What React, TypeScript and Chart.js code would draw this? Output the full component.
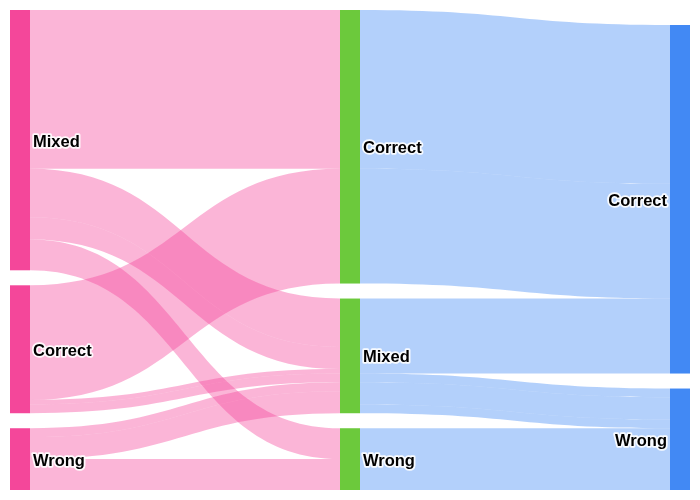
import React, { useEffect, useRef } from 'react';
import { Chart, registerables } from 'chart.js';

Chart.register(...registerables);

// ---- data ----
const COLUMN_1 = ['Mixed', 'Correct', 'Wrong'];
const COLUMN_2 = ['Correct', 'Mixed', 'Wrong'];
const COLUMN_3 = ['Correct', 'Wrong'];

const LINKS_1_FROM = ['Mixed', 'Mixed', 'Mixed', 'Mixed', 'Correct', 'Correct', 'Correct', 'Wrong', 'Wrong', 'Wrong'];
const LINKS_1_TO = ['Correct', 'Mixed', 'Mixed', 'Wrong', 'Correct', 'Mixed', 'Mixed', 'Mixed', 'Mixed', 'Wrong'];
const LINKS_1_VALUES = [36, 11, 5, 7, 26, 1, 2, 2, 5, 7];

const LINKS_2_FROM = ['Correct', 'Correct', 'Mixed', 'Mixed', 'Mixed', 'Mixed', 'Mixed', 'Mixed', 'Wrong'];
const LINKS_2_TO = ['Correct', 'Correct', 'Correct', 'Correct', 'Correct', 'Wrong', 'Wrong', 'Wrong', 'Wrong'];
const LINKS_2_VALUES = [36, 26, 11, 5, 1, 2, 5, 2, 14];

const COLUMN_COLORS = ['#F4479A', '#6CC93C', '#4289F4'];
const FLOW_COLORS = ['rgba(244, 71, 154, 0.4)', 'rgba(66, 137, 244, 0.4)'];

// ---- style constants ----
const CANVAS_W = 700;
const CANVAS_H = 500;
const PAD = 10;
const NODE_W = 20;
const NODE_GAP_PX = 15;

const COLUMNS = [COLUMN_1, COLUMN_2, COLUMN_3];
const LINK_SETS = [
  { from: LINKS_1_FROM, to: LINKS_1_TO, values: LINKS_1_VALUES },
  { from: LINKS_2_FROM, to: LINKS_2_TO, values: LINKS_2_VALUES },
];

function nodeSizes() {
  const ins = COLUMNS.map((c) => c.map(() => 0));
  const outs = COLUMNS.map((c) => c.map(() => 0));
  LINK_SETS.forEach((ls, k) => {
    ls.values.forEach((v, i) => {
      outs[k][COLUMNS[k].indexOf(ls.from[i])] += v;
      ins[k + 1][COLUMNS[k + 1].indexOf(ls.to[i])] += v;
    });
  });
  return COLUMNS.map((c, k) => c.map((_, j) => Math.max(ins[k][j], outs[k][j])));
}

const SIZES = nodeSizes();
const MAX_TOTAL = Math.max(...SIZES.map((s) => s.reduce((a, b) => a + b, 0)));
const MAX_NODES = Math.max(...COLUMNS.map((c) => c.length));
const PLOT_H = CANVAS_H - 2 * PAD;
const GAP_UNITS = (NODE_GAP_PX * MAX_TOTAL) / (PLOT_H - NODE_GAP_PX * (MAX_NODES - 1));
const Y_MAX = MAX_TOTAL + GAP_UNITS * (MAX_NODES - 1);

function layout() {
  // node tops (value units), bottom aligned columns
  const tops = COLUMNS.map((c, k) => {
    const total = SIZES[k].reduce((a, b) => a + b, 0) + GAP_UNITS * (c.length - 1);
    let y = Y_MAX - total;
    return c.map((_, j) => {
      const t = y;
      y += SIZES[k][j] + GAP_UNITS;
      return t;
    });
  });
  const flows: { k: number; s0: number; s1: number; t0: number; t1: number }[][] = [];
  LINK_SETS.forEach((ls, k) => {
    const n = ls.values.length;
    const idx = Array.from({ length: n }, (_, i) => i);
    const fromIdx = idx.map((i) => COLUMNS[k].indexOf(ls.from[i]));
    const toIdx = idx.map((i) => COLUMNS[k + 1].indexOf(ls.to[i]));
    const srcStart: number[] = new Array(n).fill(0);
    const tgtStart: number[] = new Array(n).fill(0);
    const outOff = COLUMNS[k].map((_, j) => tops[k][j]);
    [...idx].sort((a, b) => fromIdx[a] - fromIdx[b] || toIdx[a] - toIdx[b] || a - b).forEach((i) => {
      srcStart[i] = outOff[fromIdx[i]];
      outOff[fromIdx[i]] += ls.values[i];
    });
    const inOff = COLUMNS[k + 1].map((_, j) => tops[k + 1][j]);
    [...idx].sort((a, b) => toIdx[a] - toIdx[b] || fromIdx[a] - fromIdx[b] || a - b).forEach((i) => {
      tgtStart[i] = inOff[toIdx[i]];
      inOff[toIdx[i]] += ls.values[i];
    });
    flows.push(
      idx.map((i) => ({
        k,
        s0: srcStart[i],
        s1: srcStart[i] + ls.values[i],
        t0: tgtStart[i],
        t1: tgtStart[i] + ls.values[i],
      }))
    );
  });
  return { tops, flows };
}

const sankeyPlugin = {
  id: 'sankeyDraw',
  afterDatasetsDraw(chart: any) {
    const ctx = chart.ctx as CanvasRenderingContext2D;
    const xs = chart.scales.x;
    const ys = chart.scales.y;
    const { tops, flows } = layout();
    ctx.save();
    // flows
    flows.forEach((set, k) => {
      const xa = xs.getPixelForValue(k) + NODE_W;
      const xb = xs.getPixelForValue(k + 1);
      const xm = (xa + xb) / 2;
      ctx.fillStyle = FLOW_COLORS[k];
      set.forEach((f) => {
        const s0 = ys.getPixelForValue(f.s0);
        const s1 = ys.getPixelForValue(f.s1);
        const t0 = ys.getPixelForValue(f.t0);
        const t1 = ys.getPixelForValue(f.t1);
        ctx.beginPath();
        ctx.moveTo(xa, s0);
        ctx.bezierCurveTo(xm, s0, xm, t0, xb, t0);
        ctx.lineTo(xb, t1);
        ctx.bezierCurveTo(xm, t1, xm, s1, xa, s1);
        ctx.closePath();
        ctx.fill();
      });
    });
    // nodes
    COLUMNS.forEach((col, k) => {
      const x = xs.getPixelForValue(k);
      ctx.fillStyle = COLUMN_COLORS[k];
      col.forEach((_, j) => {
        const y0 = ys.getPixelForValue(tops[k][j]);
        const y1 = ys.getPixelForValue(tops[k][j] + SIZES[k][j]);
        ctx.fillRect(x, y0, NODE_W, y1 - y0);
      });
    });
    // labels
    ctx.font = 'bold 16.5px "Liberation Sans", Arial, sans-serif';
    ctx.textBaseline = 'middle';
    ctx.lineJoin = 'round';
    COLUMNS.forEach((col, k) => {
      const x = xs.getPixelForValue(k);
      const last = k === COLUMNS.length - 1;
      ctx.textAlign = last ? 'right' : 'left';
      const tx = last ? x - 3 : x + NODE_W + 3;
      col.forEach((name, j) => {
        const yc = ys.getPixelForValue(tops[k][j] + SIZES[k][j] / 2) + 2;
        ctx.strokeStyle = 'rgba(255,255,255,0.9)';
        ctx.lineWidth = 3.5;
        ctx.strokeText(name, tx, yc);
        ctx.fillStyle = '#000';
        ctx.fillText(name, tx, yc);
      });
    });
    ctx.restore();
  },
};

export default function App() {
  const ref = useRef<HTMLCanvasElement>(null);
  useEffect(() => {
    document.body.style.margin = '0';
    if (!ref.current) return;
    const chart = new Chart(ref.current, {
      type: 'scatter',
      data: { datasets: [] },
      options: {
        animation: false,
        responsive: false,
        layout: { padding: { left: PAD, right: PAD + NODE_W, top: PAD, bottom: PAD } },
        scales: {
          x: { type: 'linear', min: 0, max: COLUMNS.length - 1, display: false },
          y: { type: 'linear', min: 0, max: Y_MAX, reverse: true, display: false },
        },
        plugins: { legend: { display: false }, tooltip: { enabled: false } },
      },
      plugins: [sankeyPlugin],
    } as any);
    return () => chart.destroy();
  }, []);
  return (
    <div style={{ width: CANVAS_W, height: CANVAS_H }}>
      <canvas ref={ref} width={CANVAS_W} height={CANVAS_H} style={{ display: 'block' }} />
    </div>
  );
}
